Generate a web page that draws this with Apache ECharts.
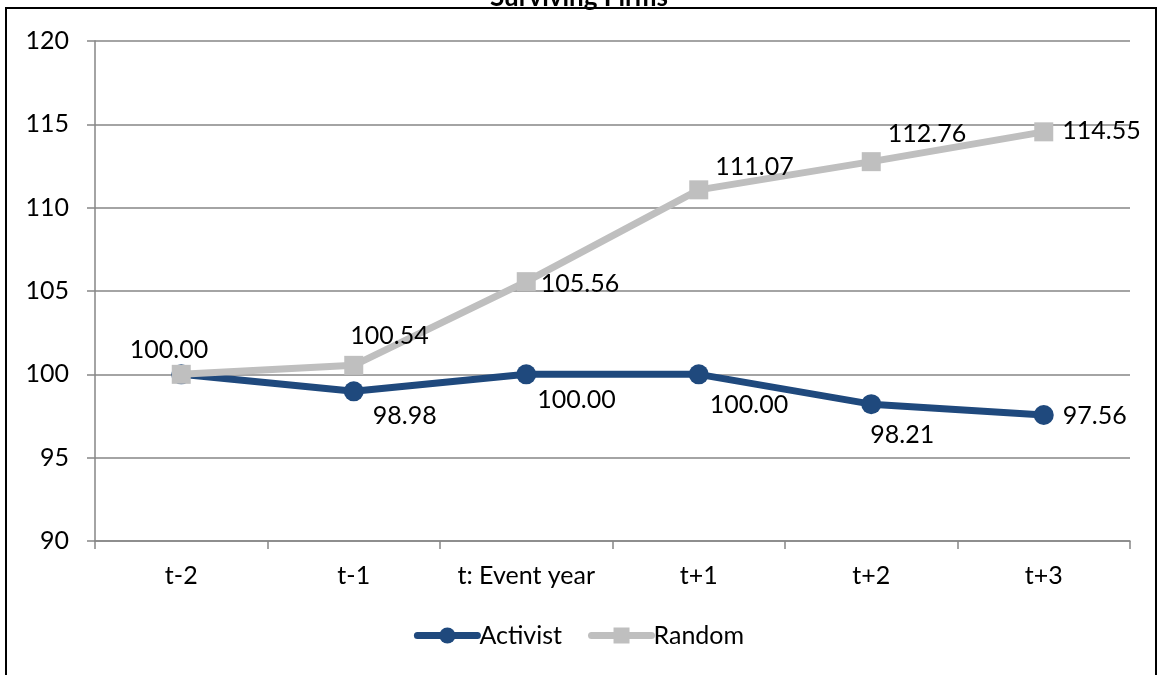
<!DOCTYPE html>
<html><head><meta charset="utf-8">
<script src="https://cdn.jsdelivr.net/npm/echarts@6/dist/echarts.min.js"></script>
<style>html,body{margin:0;padding:0;background:#fff}#c{width:1158px;height:675px}</style>
</head><body><div id="c"></div>
<script>
const categories = ['t-2', 't-1', 't: Event year', 't+1', 't+2', 't+3'];
const activist = [100.00, 98.98, 100.00, 100.00, 98.21, 97.56];
const random = [100.00, 100.54, 105.56, 111.07, 112.76, 114.55];
const yTicks = {min: 90, max: 120, interval: 5};

const FONT = 'Lato, "Open Sans", sans-serif';
const FS = 25;
// label placements (style only)
const actLabel = [
  {show:false},
  {position:'right', offset:[4, 25]},
  {position:'right', offset:[-4, 26]},
  {position:'right', offset:[-4, 31]},
  {position:'right', offset:[-16, 31]},
  {position:'right', offset:[4, 1]}
];
const rndLabel = [
  {position:'right', offset:[-66, -24]},
  {position:'right', offset:[-18, -29]},
  {position:'right', offset:[0, 2]},
  {position:'right', offset:[2, -23]},
  {position:'right', offset:[2, -28]},
  {position:'right', offset:[4, -1]}
];
const chart = echarts.init(document.getElementById('c'));
chart.setOption({
  animation: false,
  backgroundColor: '#fff',
  title: {text: 'Surviving Firms', left: 'center', top: -20,
    textStyle: {fontFamily: FONT, fontWeight: 'bold', fontSize: 26, color: '#000'}},
  graphic: [{type:'rect', shape:{x:6, y:8, width:1150, height:700}, style:{fill:'none', stroke:'#000', lineWidth:2}, silent:true}],
  grid: {left: 95, right: 28, top: 41, bottom: 134},
  legend: {bottom: 22, left: 'center', itemWidth: 60, itemHeight: 20, itemGap: 26,
    lineStyle: {width: 7, cap: 'round'},
    textStyle: {fontFamily: FONT, fontSize: FS, color: '#000', padding:[0,0,0,-3]},
    data: ['Activist', 'Random']},
  xAxis: {type: 'category', data: categories, boundaryGap: true,
    axisLine: {lineStyle: {color: '#868686', width: 1.5}},
    axisTick: {show: true, interval: 0, length: 8, lineStyle: {color: '#868686', width: 1.5}},
    axisLabel: {interval: 0, fontFamily: FONT, fontSize: FS, color: '#000', margin: 22}},
  yAxis: {type: 'value', min: yTicks.min, max: yTicks.max, interval: yTicks.interval,
    axisLine: {show: true, lineStyle: {color: '#868686', width: 1.5}},
    axisTick: {show: true, length: 8, lineStyle: {color: '#868686', width: 1.5}},
    splitLine: {lineStyle: {color: '#868686', width: 1.5}},
    axisLabel: {fontFamily: FONT, fontSize: FS, color: '#000', margin: 26}},
  series: [
    {name: 'Activist', type: 'line', z: 2,
      data: activist.map((v,i)=>({value:v, label: actLabel[i]})),
      symbol: 'circle', symbolSize: 20,
      lineStyle: {color: '#1F497D', width: 7, cap: 'round'}, itemStyle: {color: '#1F497D'},
      label: {show: true, formatter: p=>p.value.toFixed(2), fontFamily: FONT, fontSize: FS, color: '#000'}},
    {name: 'Random', type: 'line', z: 3,
      data: random.map((v,i)=>({value:v, label: rndLabel[i]})),
      symbol: 'rect', symbolSize: 19,
      lineStyle: {color: '#BFBFBF', width: 7, cap: 'round'}, itemStyle: {color: '#BFBFBF'},
      label: {show: true, formatter: p=>p.value.toFixed(2), fontFamily: FONT, fontSize: FS, color: '#000'}}
  ]
});
</script></body></html>
